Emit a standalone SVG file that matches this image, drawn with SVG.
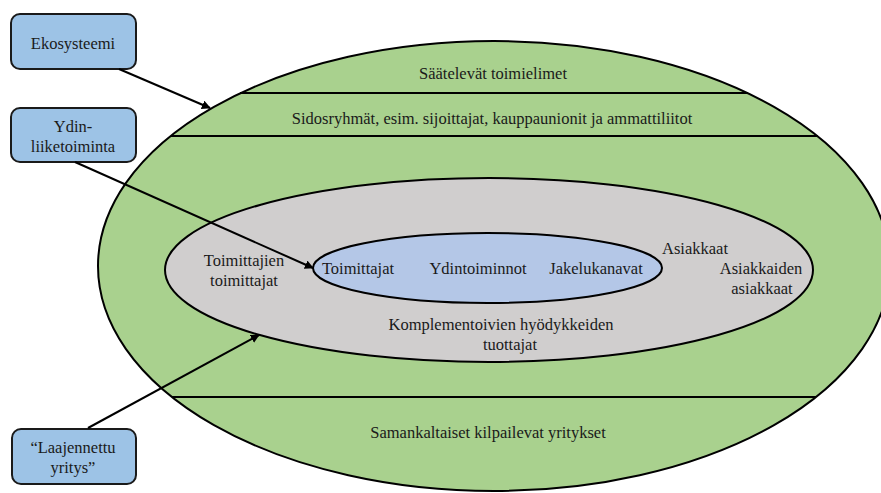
<svg xmlns="http://www.w3.org/2000/svg" width="881" height="493" viewBox="0 0 881 493">
<defs>
<style>
.t{font-family:'Liberation Serif','DejaVu Serif','Times New Roman',serif;font-size:16.5px;fill:#1a1a1a;text-anchor:middle}
.box{fill:#9DC3E6;stroke:#1a1a1a;stroke-width:2}
.ln{stroke:#000;stroke-width:2;fill:none}
.arr{stroke:#000;stroke-width:2;fill:none;marker-end:url(#ah)}
</style>
<marker id="ah" viewBox="0 0 10 10" refX="9" refY="5" markerWidth="4.5" markerHeight="4.5" orient="auto" markerUnits="strokeWidth">
<path d="M0,0 L10,5 L0,10 z" fill="#000"/>
</marker>
</defs>
<rect width="881" height="493" fill="#fff"/>
<g id="outer">
<ellipse cx="494" cy="266" rx="396" ry="225" fill="#A9D18E" stroke="#000" stroke-width="2"/>
<line class="ln" x1="240" y1="93" x2="748" y2="93"/>
<line class="ln" x1="171" y1="136" x2="818" y2="136"/>
<line class="ln" x1="172" y1="397" x2="816" y2="397"/>
<text class="t" font-family="Liberation Serif, serif" x="493" y="79">Säätelevät toimielimet</text>
<text class="t" font-family="Liberation Serif, serif" x="492" y="124">Sidosryhmät, esim. sijoittajat, kauppaunionit ja ammattiliitot</text>
<text class="t" font-family="Liberation Serif, serif" x="488" y="438">Samankaltaiset kilpailevat yritykset</text>
</g>
<g id="extended">
<ellipse cx="489" cy="270" rx="324" ry="92" fill="#D0CECE" stroke="#000" stroke-width="2"/>
<text class="t" x="244" y="266">Toimittajien</text>
<text class="t" x="244" y="286">toimittajat</text>
<text class="t" x="695" y="254">Asiakkaat</text>
<text class="t" x="761" y="274">Asiakkaiden</text>
<text class="t" x="762" y="294">asiakkaat</text>
<text class="t" x="501" y="330">Komplementoivien hyödykkeiden</text>
<text class="t" x="510" y="350">tuottajat</text>
</g>
<g id="core">
<ellipse cx="487.5" cy="268" rx="174.5" ry="35" fill="#B4C7E7" stroke="#000" stroke-width="2"/>
<text class="t" x="358" y="274">Toimittajat</text>
<text class="t" x="478" y="274">Ydintoiminnot</text>
<text class="t" x="596" y="274">Jakelukanavat</text>
</g>
<g id="box-ekosysteemi">
<rect class="box" x="11" y="14" width="125" height="55" rx="9"/>
<text class="t" x="73" y="49">Ekosysteemi</text>
</g>
<g id="box-ydin">
<rect class="box" x="11" y="108" width="125" height="54" rx="9"/>
<text class="t" x="73" y="132">Ydin-</text>
<text class="t" x="73" y="152">liiketoiminta</text>
</g>
<g id="box-laajennettu">
<rect class="box" x="12" y="429" width="124" height="55" rx="9"/>
<text class="t" x="73" y="453">“Laajennettu</text>
<text class="t" x="73" y="473">yritys”</text>
</g>
<g id="connectors">
<line class="arr" x1="119" y1="69" x2="210" y2="108"/>
<line class="arr" x1="75" y1="162" x2="313" y2="268"/>
<line class="arr" x1="88" y1="428" x2="259" y2="335"/>
</g>
</svg>
